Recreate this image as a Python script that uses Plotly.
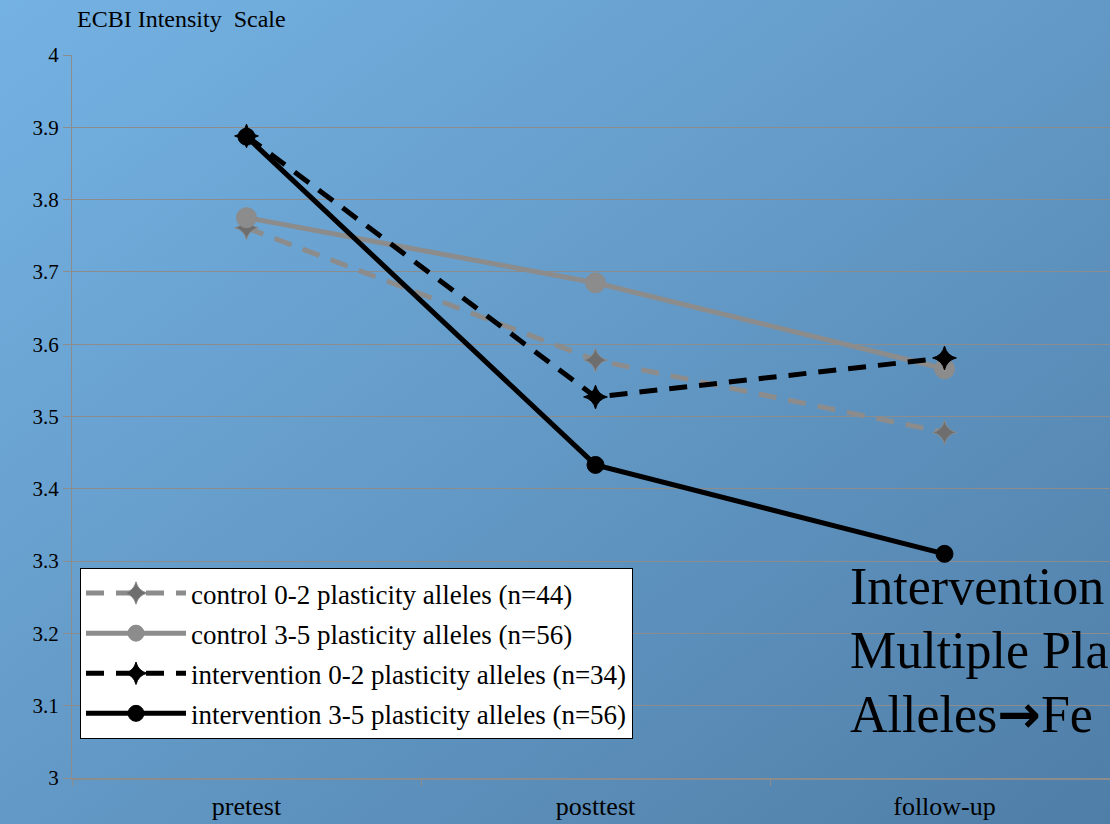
import base64
import plotly.graph_objects as go

# ---- data ----
phases = ["pretest", "posttest", "follow-up"]
control_02 = [3.761, 3.578, 3.478]
control_35 = [3.775, 3.685, 3.566]
interv_02 = [3.888, 3.527, 3.581]
interv_35 = [3.887, 3.433, 3.310]
series_names = [
    "control 0-2 plasticity alleles (n=44)",
    "control 3-5 plasticity alleles (n=56)",
    "intervention 0-2 plasticity alleles (n=34)",
    "intervention 3-5 plasticity alleles (n=56)",
]
y_ticks = [3, 3.1, 3.2, 3.3, 3.4, 3.5, 3.6, 3.7, 3.8, 3.9, 4]
y_ticktext = ["3", "3.1", "3.2", "3.3", "3.4", "3.5", "3.6", "3.7", "3.8", "3.9", "4"]
note_lines = ["Intervention", "Multiple Pla",
              "Alleles<span style='font-family:DejaVu Sans;font-weight:bold'>\u2192</span>Fe"]

W, H = 1110, 824
ML, MR, MT, MB = 72, 0, 55, 46
pw, ph = W - ML - MR, H - MT - MB

SERIF = "Liberation Serif, Times New Roman, serif"
GRAY = "#8c8c8c"

fig = go.Figure()

styles = [
    dict(color=GRAY, dash="18px,12px", symbol="star-diamond", msize=17, mcolor="#6e6e6e", mline="#8c8c8c"),
    dict(color=GRAY, dash="solid", symbol="circle", msize=20, mcolor=GRAY, mline=GRAY),
    dict(color="#000000", dash="18px,12px", symbol="star-diamond", msize=17, mcolor="#000000", mline="#000000"),
    dict(color="#000000", dash="solid", symbol="circle", msize=17, mcolor="#000000", mline="#000000"),
]
for i, (name, vals, st) in enumerate(zip(series_names, [control_02, control_35, interv_02, interv_35], styles)):
    fig.add_trace(go.Scatter(
        x=phases, y=vals, name=name, mode="lines+markers", legendgroup=f"g{i}",
        line=dict(color=st["color"], width=5, dash=st["dash"]),
        marker=dict(symbol=st["symbol"], size=st["msize"], color=st["mcolor"],
                    line=dict(color=st["mline"], width=1)),
    ))

# gradient background (SVG data URI)
svg = (
    '<svg xmlns="http://www.w3.org/2000/svg" width="1110" height="824" preserveAspectRatio="none">'
    '<defs><linearGradient id="g" x1="0" y1="0" x2="1" y2="1">'
    '<stop offset="0" stop-color="#74b2e3"/><stop offset="0.5" stop-color="#6399c6"/>'
    '<stop offset="1" stop-color="#4f7ea7"/></linearGradient></defs>'
    '<rect width="1110" height="824" fill="url(#g)"/></svg>'
)
src = "data:image/svg+xml;base64," + base64.b64encode(svg.encode()).decode()
fig.add_layout_image(
    source=src, xref="paper", yref="paper",
    x=-ML / pw, y=1 + MT / ph, sizex=W / pw, sizey=H / ph,
    xanchor="left", yanchor="top", sizing="stretch", layer="below",
)

annotations = [
    dict(text="ECBI Intensity  Scale", xref="paper", yref="paper",
         x=(75 - ML) / pw, y=1 + (MT - 19) / ph, xanchor="left", yanchor="middle",
         showarrow=False, font=dict(family=SERIF, size=24, color="#000000")),
]
for k, line in enumerate(note_lines):
    annotations.append(dict(
        text=line, xref="paper", yref="paper", x=(848 - ML) / pw,
        y=(778 - (586 + 64 * k)) / ph, xanchor="left", yanchor="middle",
        align="left", showarrow=False,
        font=dict(family=SERIF, size=52, color="#000000")))

fig.update_layout(
    width=W, height=H,
    margin=dict(l=ML, r=MR, t=MT, b=MB, pad=0),
    paper_bgcolor="rgba(0,0,0,0)", plot_bgcolor="rgba(0,0,0,0)",
    font=dict(family=SERIF, color="#000000"),
    showlegend=True,
    legend=dict(
        x=8 / pw, y=(778 - 568) / ph, xanchor="left", yanchor="top",
        bgcolor="#ffffff", bordercolor="#000000", borderwidth=1,
        font=dict(family=SERIF, size=27, color="#000000"),
        itemwidth=100, tracegroupgap=2,
    ),
    xaxis=dict(
        type="category", categoryorder="array", categoryarray=phases,
        range=[-0.5, 2.5 - (ML + 3 * 349 - W) / 349],
        tickson="boundaries", ticks="outside", ticklen=6, tickcolor=GRAY,
        showgrid=False, showline=True, linecolor=GRAY, linewidth=2,
        tickfont=dict(family=SERIF, size=26, color="#000000"),
        ticklabelstandoff=4,
        zeroline=False,
    ),
    yaxis=dict(
        range=[3, 4], tickvals=y_ticks, ticktext=y_ticktext,
        ticks="outside", ticklen=8, tickcolor=GRAY,
        showgrid=True, gridcolor=GRAY, gridwidth=1,
        showline=True, linecolor=GRAY, linewidth=1,
        tickfont=dict(family=SERIF, size=21, color="#000000"),
        zeroline=False,
    ),
    annotations=annotations,
)

fig.write_html("out.html", config={"displayModeBar": False},
               post_script="document.body.style.margin='0';")
